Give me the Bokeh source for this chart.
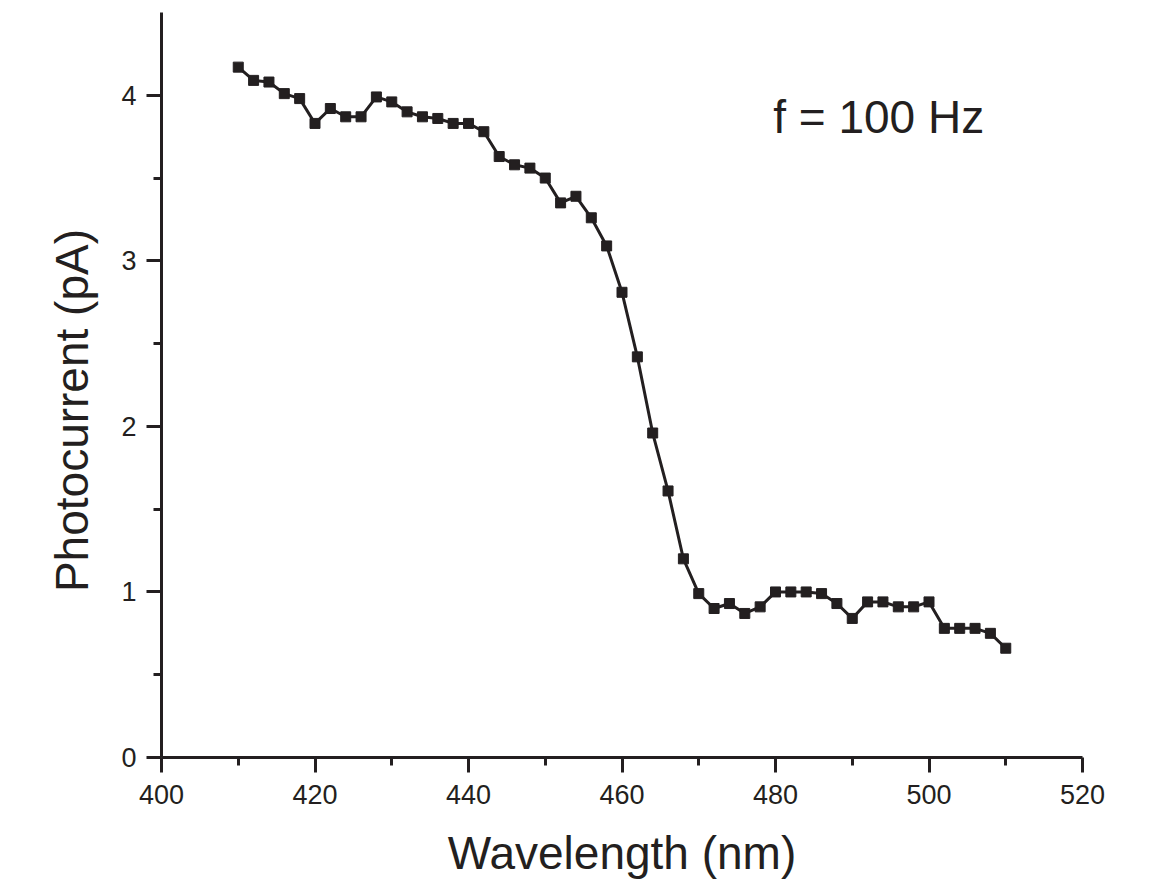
from bokeh.plotting import figure
from bokeh.models import Range1d, FixedTicker, Label
from bokeh.embed import file_html
from bokeh.resources import INLINE

wavelength = [410, 412, 414, 416, 418, 420, 422, 424, 426, 428,
              430, 432, 434, 436, 438, 440, 442, 444, 446, 448,
              450, 452, 454, 456, 458, 460, 462, 464, 466, 468,
              470, 472, 474, 476, 478, 480, 482, 484, 486, 488,
              490, 492, 494, 496, 498, 500, 502, 504, 506, 508, 510]
photocurrent = [4.17, 4.09, 4.08, 4.01, 3.98, 3.83, 3.92, 3.87, 3.87, 3.99,
                3.96, 3.90, 3.87, 3.86, 3.83, 3.83, 3.78, 3.63, 3.58, 3.56,
                3.50, 3.35, 3.39, 3.26, 3.09, 2.81, 2.42, 1.96, 1.61, 1.20,
                0.99, 0.90, 0.93, 0.87, 0.91, 1.00, 1.00, 1.00, 0.99, 0.93,
                0.84, 0.94, 0.94, 0.91, 0.91, 0.94, 0.78, 0.78, 0.78, 0.75, 0.66]
x_ticks = [400, 420, 440, 460, 480, 500, 520]
x_minor = [410, 430, 450, 470, 490, 510]
y_ticks = [0, 1, 2, 3, 4]
y_minor = [0.5, 1.5, 2.5, 3.5]
x_title = "Wavelength (nm)"
y_title = "Photocurrent (pA)"
note = "f = 100 Hz"

ink = "#231f20"
font = "Liberation Sans"

p = figure(width=1156, height=881, output_backend="svg", toolbar_location=None,
           x_range=Range1d(400, 520), y_range=Range1d(0, 4.5),
           min_border_left=161, min_border_right=74, min_border_top=12,
           min_border_bottom=123)
p.outline_line_color = None
p.grid.visible = False
p.background_fill_color = "white"
p.border_fill_color = "white"

p.line(wavelength, photocurrent, line_color=ink, line_width=3)
p.scatter(wavelength, photocurrent, marker="square", size=10,
          fill_color=ink, line_color=ink)

xa = p.xaxis[0]
ya = p.yaxis[0]
for ax, ticks, minor in ((xa, x_ticks, x_minor), (ya, y_ticks, y_minor)):
    ax.ticker = FixedTicker(ticks=ticks, minor_ticks=minor)
    ax.axis_line_width = 3
    ax.axis_line_color = ink
    ax.major_tick_line_width = 3
    ax.major_tick_line_color = ink
    ax.minor_tick_line_width = 3
    ax.minor_tick_line_color = ink
    ax.major_tick_out = 15
    ax.major_tick_in = 0
    ax.minor_tick_out = 8
    ax.minor_tick_in = 0
    ax.major_label_text_font = font
    ax.major_label_text_color = ink
    ax.major_label_text_font_size = "27px"
    ax.major_label_text_line_height = 1.0
    ax.axis_label_text_font = font
    ax.axis_label_text_font_style = "normal"
    ax.axis_label_text_color = ink
    ax.axis_label_text_font_size = "46px"
    ax.axis_label_text_line_height = 1.0

xa.axis_label = x_title
# trailing no-break spaces shift the centred vertical title slightly downward
ya.axis_label = y_title + "\u00a0" * 4
xa.major_label_standoff = 12
ya.major_label_standoff = 10
xa.axis_label_standoff = 20
ya.axis_label_standoff = 20

p.add_layout(Label(x=479.7, y=3.87, text=note, text_font=font,
                   text_font_size="46px", text_color=ink,
                   text_baseline="middle", text_align="left"))

open("out.html", "w").write(file_html(p, INLINE))
